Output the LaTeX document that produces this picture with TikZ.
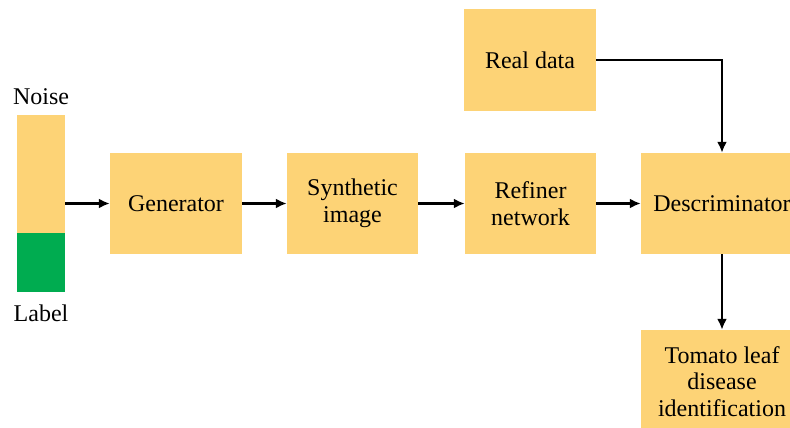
\documentclass[tikz,border=0pt]{standalone}
\usepackage{fontspec}
\setmainfont{Liberation Serif}
\usetikzlibrary{arrows.meta}
\definecolor{boxyellow}{RGB}{253,211,118}
\definecolor{labelgreen}{RGB}{0,172,80}
\tikzset{
  blockbox/.style={fill=boxyellow, draw=none, minimum width=#1, minimum height=101pt,
    inner sep=0pt, align=center, font=\rmfamily\fontsize{24}{26.5}\selectfont},
  blockbox/.default=131pt,
  bartext/.style={font=\rmfamily\fontsize{24}{26}\selectfont, inner sep=0pt},
  arr/.style={line width=2.8pt, -{Latex[length=11pt,width=10pt]}},
}
\begin{document}
\begin{tikzpicture}[x=1pt,y=-1pt]
  \useasboundingbox (0,0) rectangle (790,428);
  \clip (0,0) rectangle (790,428);

  % input vector: noise part and label part
  \node[fill=boxyellow, minimum width=48pt, minimum height=118pt, inner sep=0pt] (noisebar) at (41,174) {};
  \node[fill=labelgreen, minimum width=48pt, minimum height=59pt, inner sep=0pt] (labelbar) at (41,262.5) {};
  \node[bartext] (noisetxt) at (41,97) {Noise};
  \node[bartext] (labeltxt) at (41,313) {Label};

  % processing blocks
  \node[blockbox=132pt] (gen) at (176,203.5) {Generator};
  \node[blockbox] (synth) at (352.5,203.5) {Synthetic\\image};
  \node[blockbox] (refiner) at (530.5,203.5) {Refiner\\network};
  \node[blockbox=132pt] (real) at (530,60) {Real data};
  \node[blockbox=162pt] (disc) at (722,203.5) {Descriminator};
  \node[blockbox=162pt, minimum height=103pt] (tomato) at (722,381.5) {Tomato leaf\\disease\\identification};

  % connectors
  \draw[arr] (noisebar.east |- gen.west) -- (gen.west);
  \draw[arr] (gen.east) -- (synth.west);
  \draw[arr] (synth.east) -- (refiner.west);
  \draw[arr] (refiner.east) -- (disc.west);
  \draw[arr] (real.east) -| (disc.north);
  \draw[arr] (disc.south) -- (tomato.north);
\end{tikzpicture}
\end{document}
